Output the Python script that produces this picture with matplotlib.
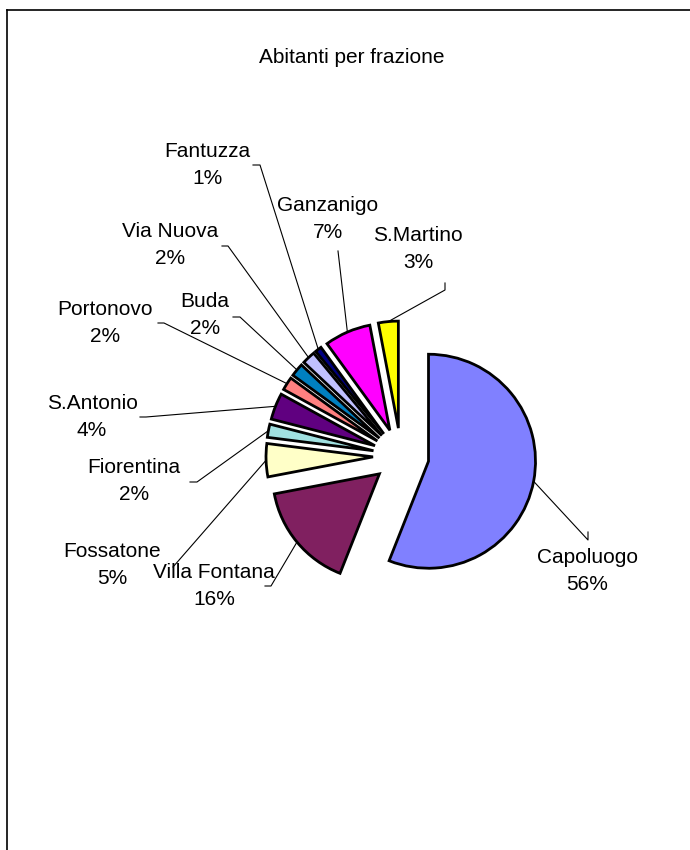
import math
import matplotlib
matplotlib.use("Agg")
import matplotlib.pyplot as plt
from matplotlib.lines import Line2D

# --- dati ---
frazioni = ['Capoluogo', 'Villa Fontana', 'Fossatone', 'Fiorentina', 'S.Antonio',
            'Portonovo', 'Buda', 'Via Nuova', 'Fantuzza', 'Ganzanigo', 'S.Martino']
percentuali = [56, 16, 5, 2, 4, 2, 2, 2, 1, 7, 3]
colori = ['#8080ff', '#802060', '#ffffc8', '#a0e0e0', '#600080', '#ff8080',
          '#0080c0', '#c0c0ff', '#000080', '#ff00ff', '#ffff00']

# --- layout (pixel, y verso il basso) ---
W, H = 690, 850
centro_px = (401, 456)
raggio = 107
stacco = 28
pos_etichette = [(587, 571), (214, 586), (112, 565), (134, 481), (92, 417),
                 (105, 323), (205, 315), (170, 245), (207, 165), (328, 219), (418, 249)]
pos_stub = [((588, 532), (588, 540)), ((265, 586), (271, 586)), ((173, 567), (173, 567)),
            ((190, 482), (197, 482)), ((140, 417), (146, 417)), ((158, 323), (164, 323)),
            ((233, 317), (240, 317)), ((222, 246), (228, 246)), ((253, 165), (260, 165)),
            ((338, 251), (338, 251)), ((445, 283), (445, 290))]


def py(y):
    return H - y


fig = plt.figure(figsize=(W / 100, H / 100), dpi=100)
ax = fig.add_axes([0, 0, 1, 1])

wedges, _ = ax.pie(percentuali, colors=colori, startangle=90, counterclock=False,
                   center=(centro_px[0], py(centro_px[1])), radius=raggio,
                   explode=[stacco] * len(percentuali),
                   wedgeprops=dict(edgecolor='black', linewidth=2))

# pie() reimposta i limiti: li rimetto dopo
ax.set_xlim(0, W)
ax.set_ylim(0, H)
ax.set_aspect('equal')
ax.axis('off')

# etichette con linee guida
for w, nome, perc, (tx, ty), (s0, s1) in zip(wedges, frazioni, percentuali, pos_etichette, pos_stub):
    ax.text(tx, py(ty), f"{nome}\n{perc}%", ha='center', va='center',
            fontsize=15, family='Liberation Sans', linespacing=1.5)
    tm = math.radians((w.theta1 + w.theta2) / 2)
    ex = w.center[0] + w.r * math.cos(tm)
    ey = w.center[1] + w.r * math.sin(tm)
    ax.plot([s0[0], s1[0], ex], [py(s0[1]), py(s1[1]), ey], color='black', lw=0.8)

ax.text(352, py(57), 'Abitanti per frazione', ha='center', va='center',
        fontsize=15, family='Liberation Sans')

# cornice (solo bordo superiore e sinistro visibili)
fig.add_artist(Line2D([7 / W, 1], [1 - 10 / H, 1 - 10 / H], color='black', lw=1.2))
fig.add_artist(Line2D([7 / W, 7 / W], [0, 1 - 10 / H], color='black', lw=1.2))

fig.savefig('out.png', dpi=100)
